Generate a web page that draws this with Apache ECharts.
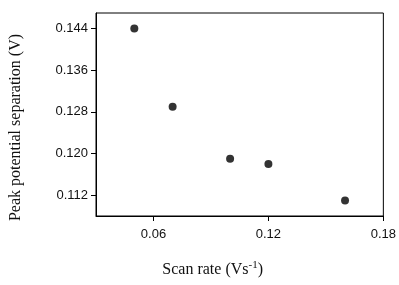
<!DOCTYPE html>
<html>
<head>
<meta charset="utf-8">
<script src="https://cdn.jsdelivr.net/npm/echarts@6/dist/echarts.min.js"></script>
<style>
  html, body { margin: 0; padding: 0; background: #fff; }
  #chart { width: 399px; height: 285px; }
</style>
</head>
<body>
<div id="chart"></div>
<script>
// scan rate (V/s) vs peak potential separation (V)
const scanRate = [0.05, 0.07, 0.10, 0.12, 0.16];
const peakSep = [0.144, 0.129, 0.119, 0.118, 0.111];
const xTicks = [0.06, 0.12, 0.18];
const yTicks = [0.112, 0.120, 0.128, 0.136, 0.144];

const chart = echarts.init(document.getElementById("chart"));

const points = scanRate.map((x, i) => [x, peakSep[i]]);

const option = {
  animation: false,
  backgroundColor: "#fff",
  grid: {
    left: 96,
    right: 14,
    top: 13,
    bottom: 69,
    show: true,
    borderColor: "#000",
    borderWidth: 1,
  },
  xAxis: {
    type: "value",
    min: 0.03,
    max: 0.18,
    name: "{n|Scan rate (Vs}{s|-1}{n|)}",
    nameLocation: "middle",
    nameGap: 44,
    nameTextStyle: {
      padding: [0, 54, 0, 0],
      rich: {
        n: { fontFamily: "Liberation Serif", fontSize: 16, color: "#111" },
        s: { fontFamily: "Liberation Serif", fontSize: 11, color: "#111", verticalAlign: "top", padding: [0, 0, 9, 0] },
      },
    },
    axisLine: { show: true, lineStyle: { color: "#000" } },
    axisTick: { show: true, customValues: xTicks, length: 5, lineStyle: { color: "#000" } },
    axisLabel: {
      customValues: xTicks,
      formatter: (v) => v.toFixed(2),
      fontFamily: "Liberation Sans",
      fontSize: 13,
      color: "#111",
      margin: 12,
    },
    splitLine: { show: false },
  },
  yAxis: {
    type: "value",
    min: 0.108,
    max: 0.147,
    name: "Peak potential separation (V)",
    nameLocation: "middle",
    nameGap: 72,
    nameTextStyle: {
      fontFamily: "Liberation Serif",
      fontSize: 16,
      color: "#111",
      padding: [0, 26, 0, 0],
    },
    axisLine: { show: true, lineStyle: { color: "#000" } },
    axisTick: { show: true, customValues: yTicks, length: 5, lineStyle: { color: "#000" } },
    axisLabel: {
      customValues: yTicks,
      formatter: (v) => v.toFixed(3),
      fontFamily: "Liberation Sans",
      fontSize: 13,
      color: "#111",
      margin: 8,
    },
    splitLine: { show: false },
  },
  series: [
    {
      type: "scatter",
      data: points,
      symbol: "circle",
      symbolSize: 8,
      itemStyle: { color: "#000" },
    },
  ],
};

chart.setOption(option);
</script>
</body>
</html>
